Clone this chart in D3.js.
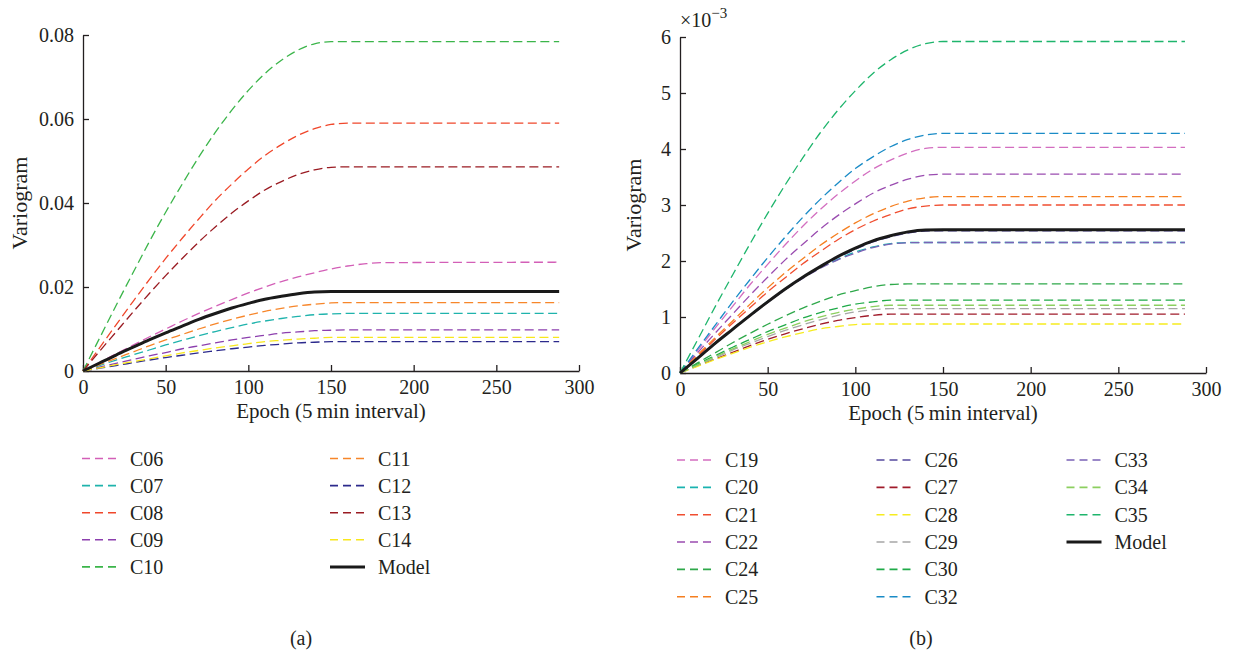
<!DOCTYPE html>
<html>
<head>
<meta charset="utf-8">
<script src="https://cdn.jsdelivr.net/npm/d3@7"></script>
<style>
  html, body { margin: 0; padding: 0; background: #fff; }
  svg { display: block; }
  text { font-family: "Liberation Serif", "Times New Roman", "DejaVu Serif", serif; fill: #231f20; }
</style>
</head>
<body>
<svg id="chart" width="1235" height="650" font-family="Liberation Serif, serif"></svg>
<script>
// ---------------- DATA ----------------
const epochs = [0, 10, 20, 30, 40, 50, 60, 70, 80, 90, 100, 110, 120, 130, 140, 150, 160, 170, 180, 288];

// Panel (a): variogram values
const namesA = ["C06", "C07", "C08", "C09", "C10", "C11", "C12", "C13", "C14"];
const C06 = [0, 0.0020, 0.0041, 0.0061, 0.0081, 0.0100, 0.0119, 0.0137, 0.0154, 0.0170, 0.0186, 0.0200, 0.0213, 0.0224, 0.0234, 0.0243, 0.0250, 0.0255, 0.0258, 0.0259];
const C07 = [0, 0.0013, 0.0026, 0.0038, 0.0050, 0.0062, 0.0073, 0.0084, 0.0094, 0.0103, 0.0112, 0.0119, 0.0125, 0.0130, 0.0134, 0.0136, 0.0137, 0.0137, 0.0137, 0.0137];
const C08 = [0, 0.0055, 0.0110, 0.0164, 0.0217, 0.0268, 0.0316, 0.0362, 0.0406, 0.0445, 0.0481, 0.0513, 0.0539, 0.0561, 0.0577, 0.0587, 0.0590, 0.0590, 0.0590, 0.0590];
const C09 = [0, 0.0009, 0.0018, 0.0027, 0.0036, 0.0044, 0.0053, 0.0060, 0.0067, 0.0074, 0.0080, 0.0085, 0.0090, 0.0093, 0.0096, 0.0097, 0.0098, 0.0098, 0.0098, 0.0098];
const C10 = [0, 0.0078, 0.0156, 0.0232, 0.0307, 0.0378, 0.0445, 0.0509, 0.0568, 0.0621, 0.0668, 0.0708, 0.0740, 0.0764, 0.0779, 0.0784, 0.0784, 0.0784, 0.0784, 0.0784];
const C11 = [0, 0.0015, 0.0030, 0.0045, 0.0060, 0.0074, 0.0087, 0.0100, 0.0112, 0.0123, 0.0133, 0.0142, 0.0149, 0.0155, 0.0159, 0.0162, 0.0163, 0.0163, 0.0163, 0.0163];
const C12 = [0, 0.00066, 0.0013, 0.00195, 0.0026, 0.0032, 0.00375, 0.0043, 0.0048, 0.0053, 0.0057, 0.0061, 0.0064, 0.0067, 0.00685, 0.0070, 0.0070, 0.0070, 0.0070, 0.0070];
const C13 = [0, 0.0047, 0.0093, 0.0139, 0.0184, 0.0227, 0.0268, 0.0307, 0.0343, 0.0376, 0.0405, 0.0431, 0.0451, 0.0468, 0.0479, 0.0485, 0.0486, 0.0486, 0.0486, 0.0486];
const C14 = [0, 0.00075, 0.0015, 0.0022, 0.0029, 0.0036, 0.0043, 0.0049, 0.0055, 0.0060, 0.0065, 0.0070, 0.0073, 0.0076, 0.0078, 0.0080, 0.0080, 0.0080, 0.0080, 0.0080];
const modelA = [0, 0.0019, 0.0038, 0.0056, 0.0074, 0.0091, 0.0107, 0.0123, 0.0137, 0.0150, 0.0161, 0.0171, 0.0178, 0.0184, 0.0188, 0.0189, 0.0189, 0.0189, 0.0189, 0.0189];
const yTicksA = [0, 0.02, 0.04, 0.06, 0.08];

// Panel (b): variogram values in units of 1e-3
const namesB = ["C19", "C20", "C21", "C22", "C24", "C25", "C26", "C27", "C28", "C29", "C30", "C32", "C33", "C34", "C35"];
const C19 = [0, 0.40, 0.80, 1.19, 1.58, 1.94, 2.29, 2.62, 2.92, 3.19, 3.43, 3.64, 3.80, 3.93, 4.01, 4.03, 4.03, 4.03, 4.03, 4.03];
const C20 = [0, 0.27, 0.53, 0.79, 1.04, 1.28, 1.50, 1.70, 1.88, 2.03, 2.16, 2.25, 2.31, 2.33, 2.33, 2.33, 2.33, 2.33, 2.33, 2.33];
const C21 = [0, 0.30, 0.60, 0.89, 1.17, 1.45, 1.70, 1.95, 2.17, 2.38, 2.56, 2.71, 2.83, 2.93, 2.98, 3.00, 3.00, 3.00, 3.00, 3.00];
const C22 = [0, 0.36, 0.71, 1.05, 1.39, 1.71, 2.02, 2.30, 2.57, 2.81, 3.02, 3.21, 3.35, 3.46, 3.53, 3.55, 3.55, 3.55, 3.55, 3.55];
const C24 = [0, 0.18, 0.36, 0.54, 0.71, 0.87, 1.02, 1.16, 1.28, 1.39, 1.47, 1.54, 1.58, 1.59, 1.59, 1.59, 1.59, 1.59, 1.59, 1.59];
const C25 = [0, 0.32, 0.63, 0.93, 1.23, 1.52, 1.79, 2.04, 2.28, 2.49, 2.68, 2.84, 2.97, 3.07, 3.13, 3.15, 3.15, 3.15, 3.15, 3.15];
const C26 = [0, 0.26, 0.52, 0.78, 1.02, 1.26, 1.49, 1.70, 1.89, 2.06, 2.21, 2.34, 2.43, 2.50, 2.535, 2.54, 2.54, 2.54, 2.54, 2.54];
const C27 = [0, 0.13, 0.25, 0.37, 0.49, 0.60, 0.70, 0.79, 0.87, 0.94, 0.99, 1.03, 1.05, 1.05, 1.05, 1.05, 1.05, 1.05, 1.05, 1.05];
const C28 = [0, 0.12, 0.24, 0.35, 0.46, 0.56, 0.645, 0.72, 0.79, 0.83, 0.865, 0.875, 0.875, 0.875, 0.875, 0.875, 0.875, 0.875, 0.875, 0.875];
const C29 = [0, 0.14, 0.27, 0.41, 0.53, 0.65, 0.76, 0.86, 0.95, 1.03, 1.09, 1.13, 1.15, 1.15, 1.15, 1.15, 1.15, 1.15, 1.15, 1.15];
const C30 = [0, 0.16, 0.31, 0.46, 0.60, 0.74, 0.86, 0.98, 1.08, 1.16, 1.23, 1.27, 1.30, 1.30, 1.30, 1.30, 1.30, 1.30, 1.30, 1.30];
const C32 = [0, 0.43, 0.85, 1.27, 1.67, 2.06, 2.43, 2.78, 3.10, 3.39, 3.65, 3.86, 4.04, 4.17, 4.25, 4.28, 4.28, 4.28, 4.28, 4.28];
const C33 = [0, 0.265, 0.53, 0.785, 1.03, 1.27, 1.49, 1.69, 1.87, 2.02, 2.14, 2.24, 2.30, 2.325, 2.33, 2.33, 2.33, 2.33, 2.33, 2.33];
const C34 = [0, 0.145, 0.29, 0.43, 0.56, 0.69, 0.80, 0.91, 1.00, 1.08, 1.14, 1.185, 1.21, 1.21, 1.21, 1.21, 1.21, 1.21, 1.21, 1.21];
const C35 = [0, 0.59, 1.18, 1.75, 2.31, 2.85, 3.36, 3.84, 4.29, 4.69, 5.04, 5.35, 5.59, 5.77, 5.88, 5.92, 5.92, 5.92, 5.92, 5.92];
const modelB = [0, 0.26, 0.53, 0.78, 1.03, 1.27, 1.50, 1.71, 1.90, 2.08, 2.23, 2.36, 2.45, 2.52, 2.555, 2.56, 2.56, 2.56, 2.56, 2.56];
const yTicksB = [0, 1, 2, 3, 4, 5, 6];

const xTicks = [0, 50, 100, 150, 200, 250, 300];

// ---------------- STYLE ----------------
const colors = {
  C06: "#d35fb7", C07: "#1fb3ac", C08: "#f0472b", C09: "#8c3fae", C10: "#3bb54a",
  C11: "#f7862a", C12: "#2c2a8c", C13: "#9a1b22", C14: "#f8e71c",
  C19: "#d36ec0", C20: "#1ab3b0", C21: "#f04e30", C22: "#9a4cb0", C24: "#2ea84a",
  C25: "#f57f20", C26: "#55499e", C27: "#a01b2a", C28: "#f6ec1f", C29: "#a7a7a7",
  C30: "#1faa48", C32: "#1a8bc6", C33: "#7a62b6", C34: "#8ccf5f", C35: "#1eb56c",
  Model: "#1a1a1a"
};
const dataA = { C06, C07, C08, C09, C10, C11, C12, C13, C14 };
const dataB = { C19, C20, C21, C22, C24, C25, C26, C27, C28, C29, C30, C32, C33, C34, C35 };

const svg = d3.select("#chart");
const FONT = 20;
const SERIF = '"Liberation Serif", "Times New Roman", serif';

function panel(cfg) {
  const x = d3.scaleLinear().domain([0, 300]).range([cfg.x0, cfg.x1]);
  const y = d3.scaleLinear().domain(cfg.yDomain).range([cfg.y0, cfg.y1]);
  const g = svg.append("g");

  const xAxis = d3.axisBottom(x).tickValues(xTicks).tickSizeInner(-6).tickSizeOuter(0).tickPadding(9)
    .tickFormat(d3.format("d"));
  const yAxis = d3.axisLeft(y).tickValues(cfg.yTicks).tickSizeInner(-6).tickSizeOuter(0).tickPadding(9)
    .tickFormat(cfg.fmt);

  const gx = g.append("g").attr("transform", `translate(0,${cfg.y0})`).call(xAxis);
  const gy = g.append("g").attr("transform", `translate(${cfg.x0},0)`).call(yAxis);
  [gx, gy].forEach(a => {
    a.attr("font-family", SERIF);
    a.selectAll("path, line").attr("stroke", "#231f20").attr("stroke-width", 1.3);
    a.selectAll("text").style("font-family", SERIF).style("font-size", FONT + "px").attr("fill", "#231f20");
  });

  const line = d3.line().x((d, i) => x(epochs[i])).y(d => y(d)).curve(d3.curveMonotoneX);

  cfg.names.forEach(n => {
    g.append("path").datum(cfg.data[n]).attr("d", line)
      .attr("fill", "none").attr("stroke", colors[n]).attr("stroke-width", 1.3)
      .attr("stroke-dasharray", "9,4.5");
  });
  g.append("path").datum(cfg.model).attr("d", line)
    .attr("fill", "none").attr("stroke", colors.Model).attr("stroke-width", 3);

  // axis titles
  g.append("text").attr("x", (cfg.x0 + x(300)) / 2).attr("y", cfg.y0 + 47)
    .attr("text-anchor", "middle").style("font-size", "21px").text("Epoch (5\u2009min interval)");
  g.append("text").attr("transform", `translate(${cfg.yLabelX},${(cfg.y0 + cfg.y1) / 2}) rotate(-90)`)
    .attr("text-anchor", "middle").style("font-size", "22px").text("Variogram");

  // legend
  const items = cfg.names.concat(["Model"]);
  items.forEach((n, i) => {
    let col = 0, acc = 0;
    while (i >= acc + cfg.perCol[col]) { acc += cfg.perCol[col]; col++; }
    const row = i - acc;
    const lx = cfg.legX[col], ly = cfg.legY + row * cfg.legStep;
    const isModel = n === "Model";
    g.append("line").attr("x1", lx).attr("x2", lx + 35).attr("y1", ly).attr("y2", ly)
      .attr("stroke", colors[n]).attr("stroke-width", isModel ? 3 : 1.6)
      .attr("stroke-dasharray", isModel ? null : "8,5");
    g.append("text").attr("x", lx + 48).attr("y", ly).attr("dy", "0.35em")
      .style("font-size", FONT + "px").text(n);
  });

  g.append("text").attr("x", cfg.capX).attr("y", 638).attr("dy", "0.35em")
    .attr("text-anchor", "middle").style("font-size", FONT + "px").text(cfg.cap);
  return { x, y, g };
}

panel({
  x0: 83, x1: 579, y0: 371, y1: 35, yDomain: [0, 0.08], yTicks: yTicksA,
  fmt: d => d === 0 ? "0" : d3.format(".2f")(d),
  names: namesA, data: dataA, model: modelA, yLabelX: 27,
  perCol: [5, 5], legX: [82, 330], legY: 458.5, legStep: 27.1, capX: 301, cap: "(a)"
});

const pB = panel({
  x0: 680, x1: 1206, y0: 373, y1: 37, yDomain: [0, 6], yTicks: yTicksB,
  fmt: d3.format("d"),
  names: namesB, data: dataB, model: modelB, yLabelX: 641,
  perCol: [6, 6, 4], legX: [677, 876.5, 1066.5], legY: 460, legStep: 27.35, capX: 921, cap: "(b)"
});

// exponent label
const ex = pB.g.append("text").attr("x", 680).attr("y", 27).style("font-size", "20px");
ex.append("tspan").text("\u00d710");
ex.append("tspan").attr("dy", -9).style("font-size", "15px").text("\u22123");
</script>
</body>
</html>
